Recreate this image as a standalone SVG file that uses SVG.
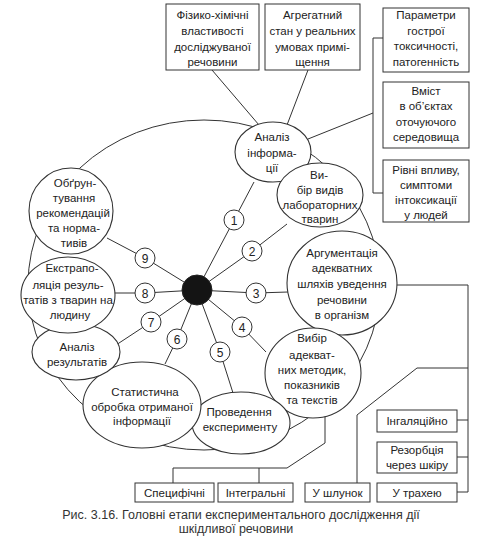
<svg xmlns="http://www.w3.org/2000/svg" width="487" height="552" viewBox="0 0 487 552">
<style>
  .bg{fill:#fff}
  .ln{fill:none;stroke:#333;stroke-width:1}
  .box{fill:#fff;stroke:#333;stroke-width:1}
  .el{fill:#fff;stroke:#333;stroke-width:1.1}
  .num{fill:#fff;stroke:#333;stroke-width:1}
  text{font-family:"Liberation Sans",Arial,sans-serif;font-size:11.5px;fill:#222;text-anchor:middle}
  .n{font-size:12px}
  .cap{font-size:12.5px;fill:#333}
</style>
<rect class="bg" x="0" y="0" width="487" height="552"/>

<g id="connectors">
  <ellipse class="ln" cx="204" cy="285" rx="176" ry="165"/>
  <path class="ln" d="M212,70 L259,125"/>
  <path class="ln" d="M308,70 L287,125"/>
  <path class="ln" d="M308,139 L373,113"/>
  <path class="ln" d="M383,38 H373 V193 H383"/>
  <path class="ln" d="M197,290 L234,220 L254,182"/>
  <path class="ln" d="M197,290 L252,251 L287,224"/>
  <path class="ln" d="M197,290 L256,293 L288,292"/>
  <path class="ln" d="M197,290 L242,327 L266,352"/>
  <path class="ln" d="M197,290 L220,352 L233,393"/>
  <path class="ln" d="M197,290 L177,339 L165,364"/>
  <path class="ln" d="M197,290 L151,322 L116,345"/>
  <path class="ln" d="M197,290 L145,293 L115,293"/>
  <path class="ln" d="M197,290 L145,258 L107,238"/>
  <path class="ln" d="M325,414 V443 L287,468 H173 V483 M259,468 V483"/>
  <path class="ln" d="M397,285 H468 V492 H457 M457,420 H468 M457,457 H468 M468,368 H417 L357,415 V483"/>
</g>

<g id="top1"><rect class="box" x="166" y="4" width="93" height="66"/>
  <text x="212.5" y="19">Фізико-хімічні</text><text x="212.5" y="35">властивості</text><text x="212.5" y="50.5">досліджуваної</text><text x="212.5" y="66">речовини</text></g>
<g id="top2"><rect class="box" x="265" y="4" width="95" height="66"/>
  <text x="312.5" y="19">Агрегатний</text><text x="312.5" y="35">стан у реальних</text><text x="312.5" y="50.5">умовах примі-</text><text x="312.5" y="66">щення</text></g>
<g id="r1"><rect class="box" x="383" y="8" width="86" height="64"/>
  <text x="426" y="19">Параметри</text><text x="426" y="34.5">гострої</text><text x="426" y="50">токсичності,</text><text x="426" y="65.5">патогенність</text></g>
<g id="r2"><rect class="box" x="383" y="82" width="86" height="66"/>
  <text x="426" y="94.5">Вміст</text><text x="426" y="110">в об’єктах</text><text x="426" y="125.5">оточуючого</text><text x="426" y="141">середовища</text></g>
<g id="r3"><rect class="box" x="383" y="160" width="86" height="62"/>
  <text x="426" y="174">Рівні впливу,</text><text x="426" y="189">симптоми</text><text x="426" y="204">інтоксикації</text><text x="426" y="219">у людей</text></g>

<g id="e1"><ellipse class="el" cx="273" cy="152" rx="38" ry="30"/>
  <text x="272" y="141">Аналіз</text><text x="272" y="157">інформа-</text><text x="272" y="172">ції</text></g>
<g id="e2"><ellipse class="el" cx="320" cy="195" rx="43" ry="32"/>
  <text x="319" y="179">Ви-</text><text x="320" y="194">бір видів</text><text x="320" y="209">лабораторних</text><text x="320" y="223">тварин</text></g>
<g id="e3"><ellipse class="el" cx="342" cy="283" rx="55" ry="52"/>
  <text x="342" y="257">Аргументація</text><text x="342" y="272">адекватних</text><text x="342" y="287.5">шляхів уведення</text><text x="342" y="303.5">речовини</text><text x="342" y="319">в організм</text></g>
<g id="e4"><ellipse class="el" cx="313" cy="373" rx="48" ry="45"/>
  <text x="312" y="342">Вибір</text><text x="312" y="359">адекват-</text><text x="312" y="374">них методик,</text><text x="312" y="389">показників</text><text x="312" y="404">та текстів</text></g>
<g id="e5"><ellipse class="el" cx="241" cy="423" rx="49" ry="31"/>
  <text x="239" y="416">Проведення</text><text x="240" y="431">експерименту</text></g>
<g id="e6"><ellipse class="el" cx="142" cy="405" rx="59" ry="43"/>
  <text x="145" y="396">Статистична</text><text x="142" y="411">обробка отриманої</text><text x="142" y="424.5">інформації</text></g>
<g id="e7"><ellipse class="el" cx="76" cy="352" rx="44" ry="28"/>
  <text x="77" y="351">Аналіз</text><text x="77" y="366">результатів</text></g>
<g id="e8"><ellipse class="el" cx="68" cy="295" rx="47" ry="38"/>
  <text x="72" y="272">Екстрапо-</text><text x="68" y="289">ляція резуль-</text><text x="68" y="304">татів з тварин на</text><text x="70" y="319">людину</text></g>
<g id="e9"><ellipse class="el" cx="71" cy="211" rx="42" ry="43"/>
  <text x="75" y="187">Обґрун-</text><text x="74" y="202">тування</text><text x="73" y="217">рекомендацій</text><text x="74" y="232">та норма-</text><text x="74" y="247">тивів</text></g>

<g id="hub"><circle cx="197" cy="290" r="15" fill="#141414" stroke="#222"/></g>
<g id="n1"><circle class="num" cx="234" cy="220" r="10"/><text class="n" x="234" y="224.5">1</text></g>
<g id="n2"><circle class="num" cx="252" cy="251" r="10"/><text class="n" x="252" y="255.5">2</text></g>
<g id="n3"><circle class="num" cx="256" cy="293" r="10"/><text class="n" x="256" y="297.5">3</text></g>
<g id="n4"><circle class="num" cx="242" cy="327" r="10"/><text class="n" x="242" y="331.5">4</text></g>
<g id="n5"><circle class="num" cx="220" cy="352" r="10"/><text class="n" x="220" y="356.5">5</text></g>
<g id="n6"><circle class="num" cx="177" cy="339" r="10"/><text class="n" x="177" y="343.5">6</text></g>
<g id="n7"><circle class="num" cx="151" cy="322" r="10"/><text class="n" x="151" y="326.5">7</text></g>
<g id="n8"><circle class="num" cx="145" cy="293" r="10"/><text class="n" x="145" y="297.5">8</text></g>
<g id="n9"><circle class="num" cx="145" cy="258" r="10"/><text class="n" x="145" y="262.5">9</text></g>

<g id="b1"><rect class="box" x="135" y="483" width="79" height="19"/><text x="174.5" y="497">Специфічні</text></g>
<g id="b2"><rect class="box" x="218" y="483" width="75" height="19"/><text x="255.5" y="497">Інтегральні</text></g>
<g id="b3"><rect class="box" x="305" y="483" width="65" height="19"/><text x="337.5" y="497">У шлунок</text></g>
<g id="b4"><rect class="box" x="377" y="483" width="80" height="19"/><text x="417" y="497">У трахею</text></g>
<g id="b5"><rect class="box" x="377" y="410" width="80" height="22"/><text x="417" y="425">Інгаляційно</text></g>
<g id="b6"><rect class="box" x="377" y="442" width="80" height="31"/><text x="417" y="454">Резорбція</text><text x="417" y="469">через шкіру</text></g>

<text class="cap" x="241" y="519">Рис. 3.16. Головні етапи експериментального дослідження дії</text>
<text class="cap" x="236" y="533">шкідливої речовини</text>
</svg>
